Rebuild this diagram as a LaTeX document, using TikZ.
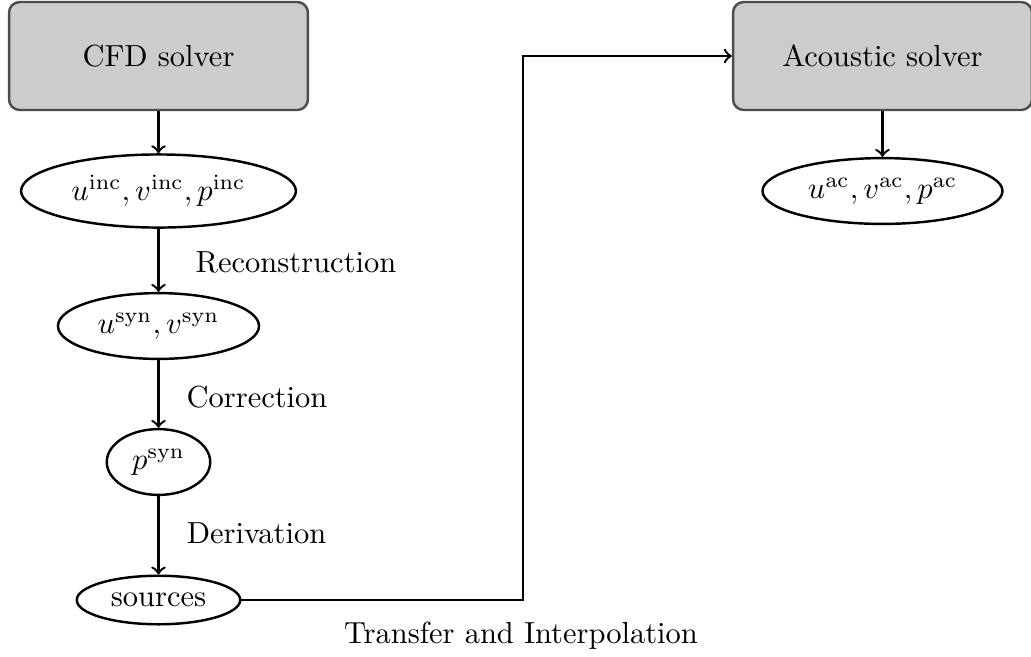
\documentclass[tikz,border=0pt]{standalone}
\usetikzlibrary{shapes.geometric}
\begin{document}
\begin{tikzpicture}[x=0.32787pt,y=-0.32787pt,
  solver/.style={draw=black!70, fill=gray!40, thick, rounded corners=3.5pt,
    minimum width=98pt, minimum height=35.4pt},
  field/.style={draw, ellipse, thick},
  flow/.style={->, thick}]
\useasboundingbox (0,0) rectangle (1031,656);
\node[solver] (cfd) at (158.5,56) {CFD solver};
\node[solver] (acs) at (882.5,56) {Acoustic solver};
\node[field] (inc) at (158.5,191) {$u^{\mathrm{inc}}, v^{\mathrm{inc}}, p^{\mathrm{inc}}$};
\node[field] (syn) at (158.5,326) {$u^{\mathrm{syn}}, v^{\mathrm{syn}}$};
\node[field] (psyn) at (158.5,462) {$p^{\mathrm{syn}}$};
\node[field] (src) at (158.5,600) {sources};
\node[field] (acf) at (882.5,191) {$u^{\mathrm{ac}}, v^{\mathrm{ac}}, p^{\mathrm{ac}}$};
\coordinate (turn) at (523,600);
\node (lrec) at (296,262) {Reconstruction};
\node (lcor) at (257,397) {Correction};
\node (lder) at (256.5,533) {Derivation};
\node (ltra) at (521,636) {Transfer and Interpolation};
\draw[flow] (cfd) -- (inc);
\draw[flow] (inc) -- (syn);
\draw[flow] (syn) -- (psyn);
\draw[flow] (psyn) -- (src);
\draw[flow] (acs) -- (acf);
\draw[flow] (src.east) -- (turn) |- (acs.west);
\end{tikzpicture}
\end{document}
